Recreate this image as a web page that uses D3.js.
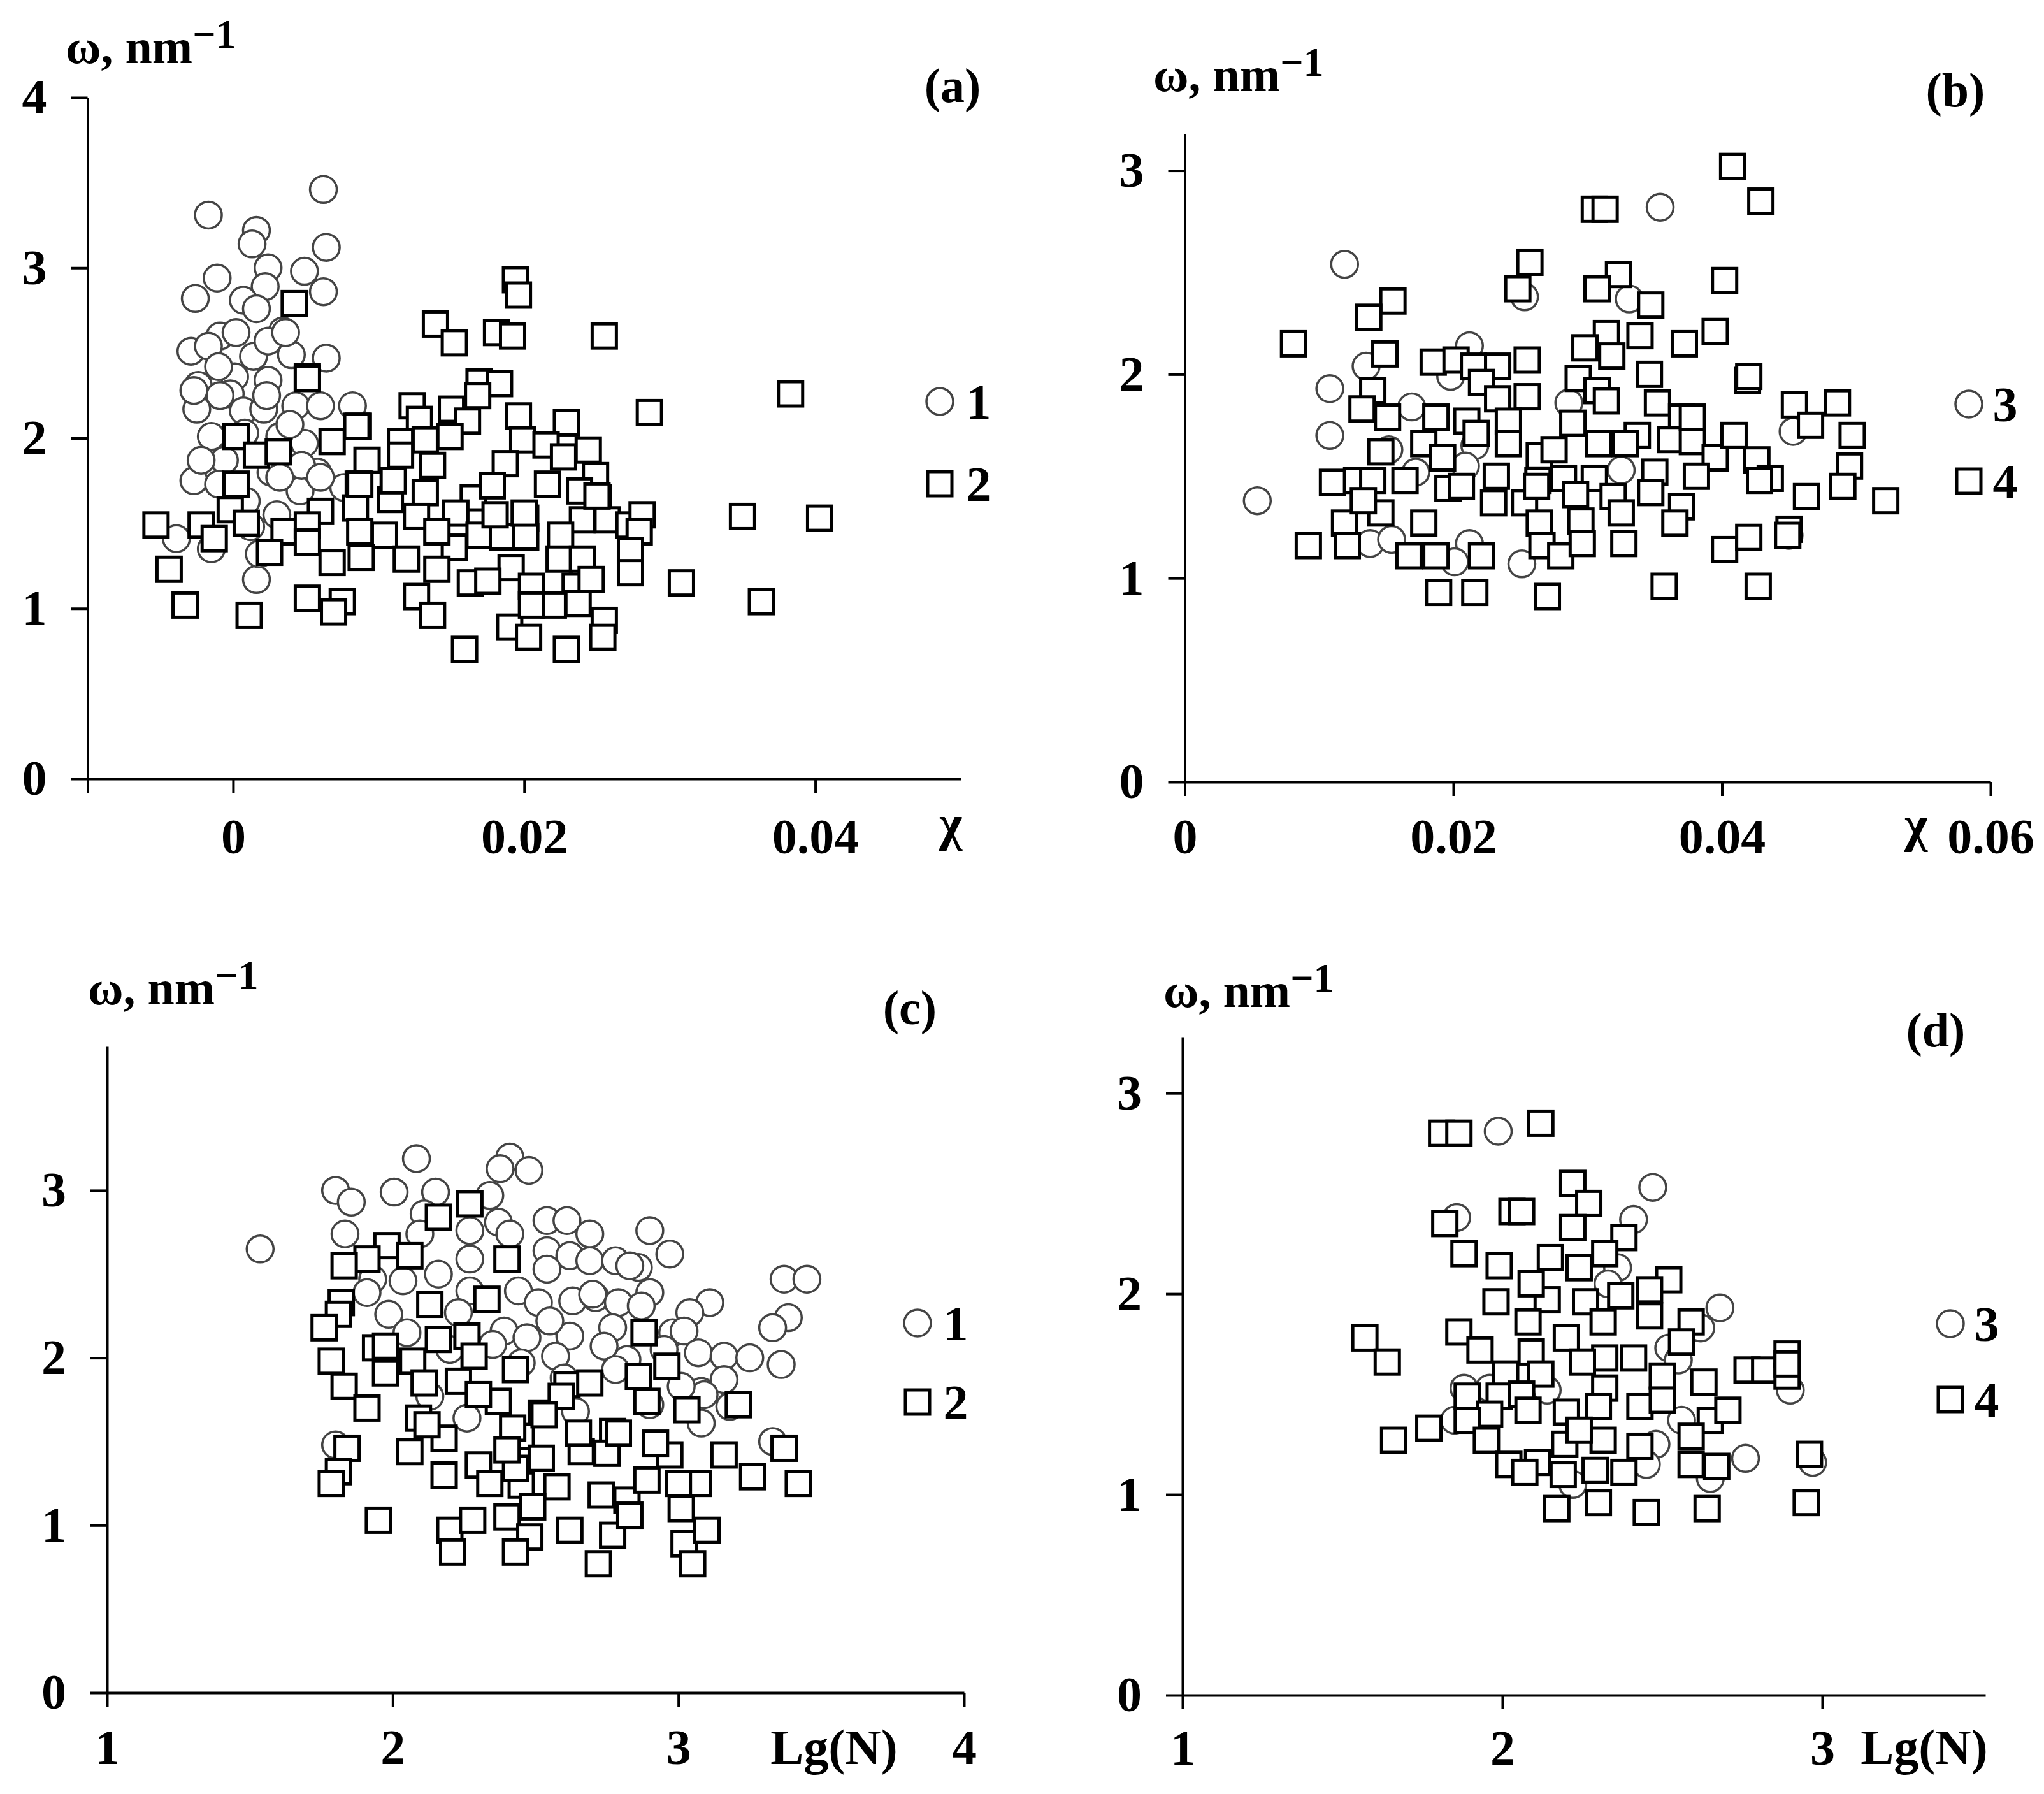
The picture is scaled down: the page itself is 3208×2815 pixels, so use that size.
<!DOCTYPE html>
<html lang="en">
<head>
<meta charset="utf-8">
<title>omega vs chi / Lg(N)</title>
<script src="https://d3js.org/d3.v7.min.js"></script>
<style>
  body { margin: 0; padding: 0; background: #fff; }
  svg { display: block; }
  text { font-family: "Liberation Serif", "Times New Roman", serif; font-weight: bold; fill: #000; }
</style>
</head>
<body>
<div id="root"></div>
<script>
// ---- data ----
// panel (a): omega vs chi, sets 1 (circles) and 2 (squares)
var a_set1 = [[0.0062,3.46],[-0.0017,3.31],[0.0016,3.22],[0.0013,3.14],[0.0064,3.12],[0.0024,3.00],[0.0049,2.98],[-0.0011,2.94],[0.0062,2.86],[-0.0026,2.82],[0.0022,2.89],[0.0007,2.81],[0.0016,2.76],[0.0034,2.63],[-0.0009,2.60],[-0.0029,2.51],[-0.0017,2.54],[0.0002,2.62],[0.0014,2.48],[0.0040,2.49],[0.0064,2.47],[0.0024,2.57],[-0.0024,2.31],[0.0001,2.36],[-0.0002,2.26],[0.0024,2.34],[-0.0010,2.42],[-0.0025,2.17],[0.0007,2.16],[0.0021,2.17],[0.0043,2.19],[0.0060,2.19],[0.0082,2.19],[-0.0015,2.01],[0.0032,2.01],[0.0049,1.97],[-0.0006,1.87],[-0.0027,1.75],[-0.0010,1.73],[0.0046,1.69],[0.0026,1.80],[-0.0039,1.41],[-0.0015,1.35],[0.0016,1.17],[0.0076,1.71],[0.0036,2.62],[-0.0027,2.28],[0.0058,1.80],[0.0018,1.32],[0.0009,1.63],[-0.0009,2.25],[0.0023,2.25],[0.0039,2.08],[0.0008,2.03],[-0.0022,1.87],[0.0047,1.84],[0.0032,1.77],[0.0060,1.77],[0.0012,1.48],[0.0030,1.55]];
var a_set2 = [[0.0194,2.93],[0.0196,2.84],[0.0042,2.79],[0.0139,2.67],[0.0152,2.56],[0.0181,2.62],[0.0192,2.60],[0.0255,2.60],[0.0051,2.36],[0.0169,2.33],[0.0183,2.32],[0.0168,2.25],[0.0123,2.19],[0.0150,2.17],[0.0196,2.13],[0.0229,2.09],[0.0086,2.07],[0.0128,2.11],[0.0161,2.10],[0.0002,2.01],[0.0068,1.98],[0.0115,1.98],[0.0132,1.99],[0.0149,2.01],[0.0199,1.99],[0.0215,1.96],[0.0016,1.90],[0.0031,1.92],[0.0092,1.87],[0.0137,1.84],[0.0115,1.90],[0.0187,1.85],[0.0227,1.89],[0.0244,1.93],[0.0249,1.78],[0.0002,1.73],[0.0086,1.73],[0.0108,1.64],[0.0132,1.68],[0.0165,1.65],[0.0216,1.73],[0.0238,1.69],[0.0251,1.65],[-0.0002,1.58],[0.0084,1.59],[0.0060,1.57],[0.0126,1.54],[0.0153,1.56],[0.0201,1.53],[0.0240,1.52],[0.0257,1.52],[-0.0053,1.49],[-0.0022,1.49],[0.0009,1.50],[-0.0013,1.41],[0.0035,1.45],[0.0051,1.49],[0.0051,1.39],[0.0087,1.45],[0.0104,1.43],[0.0169,1.43],[0.0185,1.42],[0.0201,1.42],[0.0225,1.43],[0.0272,1.49],[0.0025,1.33],[0.0088,1.30],[0.0068,1.27],[0.0119,1.29],[0.0152,1.36],[0.0191,1.24],[0.0224,1.29],[0.0240,1.29],[0.0273,1.26],[0.0140,1.23],[0.0163,1.15],[0.0175,1.16],[0.0205,1.13],[0.0235,1.13],[0.0246,1.17],[-0.0044,1.23],[0.0126,1.07],[0.0137,0.96],[-0.0033,1.02],[0.0011,0.96],[0.0051,1.06],[0.0075,1.04],[0.0069,0.98],[0.0190,0.89],[0.0203,0.83],[0.0159,0.76],[0.0229,0.76],[0.0255,0.93],[0.0254,0.83],[0.0220,1.02],[0.0205,1.02],[0.0237,1.03],[0.0383,2.26],[0.0286,2.15],[0.0350,1.54],[0.0403,1.53],[0.0308,1.15],[0.0363,1.04],[0.0281,1.55],[0.0279,1.45],[0.0273,1.34],[0.0273,1.21],[0.0250,1.66],[0.0200,1.56],[0.0051,2.35],[0.0085,2.07],[0.0087,1.73],[0.0178,1.72],[0.0140,1.45],[0.0180,1.55],[0.0110,1.75]];

// panel (b): omega vs chi, sets 3 and 4
var b_set3 = [[0.0119,2.54],[0.0354,2.82],[0.0253,2.38],[0.0331,2.37],[0.0212,2.14],[0.0135,2.04],[0.0108,1.93],[0.0198,1.99],[0.0169,1.84],[0.0286,1.86],[0.0108,1.70],[0.0216,1.65],[0.0054,1.38],[0.0172,1.52],[0.0209,1.55],[0.0325,1.53],[0.0138,1.17],[0.0154,1.19],[0.0212,1.17],[0.0201,1.08],[0.0251,1.07],[0.0453,1.72],[0.0450,1.21],[0.0152,1.63]];
var b_set4 = [[0.0408,3.02],[0.0429,2.85],[0.0305,2.81],[0.0313,2.81],[0.0257,2.55],[0.0248,2.42],[0.0323,2.49],[0.0307,2.42],[0.0347,2.34],[0.0402,2.46],[0.0155,2.36],[0.0137,2.28],[0.0081,2.15],[0.0314,2.20],[0.0339,2.19],[0.0372,2.15],[0.0395,2.21],[0.0298,2.13],[0.0149,2.10],[0.0185,2.06],[0.0202,2.07],[0.0215,2.04],[0.0233,2.04],[0.0255,2.07],[0.0318,2.09],[0.0221,1.96],[0.0293,1.98],[0.0307,1.92],[0.0346,2.00],[0.0140,1.92],[0.0233,1.88],[0.0255,1.89],[0.0314,1.87],[0.0352,1.86],[0.0132,1.83],[0.0151,1.79],[0.0187,1.79],[0.0370,1.79],[0.0289,1.76],[0.0337,1.70],[0.0210,1.77],[0.0241,1.77],[0.0217,1.71],[0.0178,1.66],[0.0241,1.66],[0.0264,1.60],[0.0275,1.63],[0.0308,1.66],[0.0328,1.66],[0.0362,1.68],[0.0378,1.67],[0.0395,1.59],[0.0146,1.62],[0.0192,1.59],[0.0232,1.50],[0.0263,1.48],[0.0282,1.49],[0.0305,1.49],[0.0350,1.52],[0.0381,1.50],[0.0110,1.47],[0.0128,1.48],[0.0140,1.48],[0.0164,1.48],[0.0196,1.44],[0.0206,1.45],[0.0230,1.37],[0.0253,1.37],[0.0262,1.45],[0.0291,1.41],[0.0319,1.40],[0.0347,1.42],[0.0370,1.35],[0.0146,1.32],[0.0178,1.27],[0.0119,1.27],[0.0133,1.38],[0.0264,1.27],[0.0295,1.28],[0.0325,1.32],[0.0365,1.27],[0.0092,1.16],[0.0121,1.16],[0.0167,1.11],[0.0187,1.11],[0.0221,1.11],[0.0266,1.16],[0.0280,1.11],[0.0296,1.17],[0.0327,1.17],[0.0189,0.93],[0.0216,0.93],[0.0270,0.91],[0.0357,0.96],[0.0402,1.14],[0.0419,1.97],[0.0420,1.99],[0.0454,1.85],[0.0486,1.86],[0.0466,1.75],[0.0497,1.70],[0.0495,1.55],[0.0490,1.45],[0.0522,1.38],[0.0463,1.40],[0.0426,1.58],[0.0436,1.49],[0.0428,1.48],[0.0409,1.70],[0.0450,1.24],[0.0449,1.21],[0.0420,1.20],[0.0427,0.96],[0.0378,1.79]];

// panel (c): omega vs Lg(N), sets 1 and 2
var c_set1 = [[1.536,2.65],[2.083,3.19],[2.41,3.20],[2.376,3.13],[2.477,3.12],[1.80,3.00],[1.855,2.93],[2.005,2.99],[2.15,2.99],[2.34,2.97],[2.11,2.86],[1.833,2.74],[2.095,2.74],[2.27,2.76],[2.37,2.81],[2.41,2.74],[2.54,2.82],[2.61,2.82],[2.69,2.74],[2.90,2.76],[2.97,2.62],[2.54,2.64],[2.62,2.61],[2.69,2.58],[2.54,2.53],[2.78,2.58],[2.86,2.54],[2.27,2.59],[2.16,2.50],[2.036,2.46],[1.93,2.47],[1.91,2.39],[2.27,2.40],[2.44,2.40],[2.51,2.33],[2.63,2.34],[2.71,2.36],[2.79,2.33],[2.90,2.39],[1.986,2.26],[2.23,2.27],[2.39,2.16],[2.47,2.12],[2.62,2.13],[2.77,2.18],[2.98,2.15],[3.11,2.33],[3.04,2.27],[3.02,2.16],[3.07,2.03],[2.57,2.01],[2.82,1.99],[3.08,1.80],[3.08,1.61],[2.64,1.68],[2.26,1.64],[2.13,1.77],[1.80,1.48],[3.37,2.47],[3.45,2.47],[3.385,2.24],[3.33,2.18],[3.36,1.96],[3.33,1.50],[3.16,2.01],[3.25,2.00],[3.16,1.87],[3.09,1.78],[3.18,1.71],[2.83,2.55],[2.70,2.38],[2.74,2.07],[2.87,2.31],[3.01,1.83],[2.78,1.93],[2.35,2.08],[2.45,1.97],[2.20,2.05],[2.60,1.88],[2.95,2.05],[2.05,2.15],[2.55,2.22],[2.90,1.72]];
var c_set2 = [[2.27,2.92],[2.16,2.84],[1.98,2.67],[2.06,2.61],[1.91,2.59],[1.83,2.55],[2.40,2.59],[1.82,2.33],[1.81,2.26],[1.76,2.18],[2.13,2.32],[2.33,2.35],[1.785,1.98],[1.94,2.06],[1.975,2.07],[2.16,2.11],[2.26,2.13],[2.285,2.01],[2.07,1.98],[2.88,2.15],[1.83,1.83],[1.975,1.91],[2.11,1.85],[2.23,1.86],[2.43,1.93],[2.61,1.84],[2.69,1.85],[2.96,1.95],[3.03,1.69],[2.86,1.89],[1.91,1.70],[2.09,1.64],[2.37,1.74],[2.52,1.67],[2.59,1.77],[2.77,1.56],[2.89,1.74],[2.06,1.44],[1.84,1.46],[2.18,1.52],[2.30,1.36],[2.45,1.53],[2.52,1.40],[2.66,1.44],[2.75,1.43],[2.97,1.42],[3.16,1.42],[1.81,1.32],[1.785,1.25],[2.18,1.30],[2.34,1.25],[2.45,1.24],[2.575,1.23],[2.73,1.18],[3.07,1.25],[3.00,1.25],[1.95,1.03],[2.20,0.97],[2.28,1.03],[2.40,1.05],[2.48,0.93],[2.62,0.97],[2.77,0.94],[3.02,0.89],[3.10,0.97],[2.21,0.84],[2.43,0.84],[2.72,0.77],[3.05,0.77],[3.21,1.72],[3.37,1.46],[3.26,1.29],[3.42,1.25],[2.49,1.11],[2.82,1.15],[3.01,1.10],[2.83,1.06],[2.79,1.55],[2.92,1.49],[2.89,1.27],[2.43,1.34],[2.42,1.58],[2.53,1.66],[2.30,1.78],[2.65,1.55],[2.12,1.60],[2.40,1.45]];

// panel (d): omega vs Lg(N), sets 3 and 4
var d_set3 = [[1.987,2.81],[2.47,2.53],[1.857,2.38],[2.41,2.37],[2.36,2.13],[2.33,2.05],[2.68,1.93],[2.62,1.83],[2.52,1.73],[2.55,1.67],[1.88,1.53],[1.96,1.53],[2.14,1.52],[1.85,1.37],[2.48,1.25],[2.56,1.37],[2.45,1.15],[2.76,1.18],[2.65,1.08],[2.22,1.05],[2.90,1.52],[2.97,1.16]];
var d_set4 = [[1.81,2.80],[1.864,2.80],[2.12,2.85],[2.22,2.55],[2.27,2.45],[2.22,2.33],[2.03,2.41],[2.06,2.41],[1.82,2.35],[1.88,2.20],[2.38,2.28],[2.32,2.20],[1.99,2.14],[2.15,2.18],[2.24,2.13],[2.52,2.07],[2.46,2.02],[1.98,1.96],[2.14,1.97],[2.26,1.96],[2.37,1.99],[2.09,2.05],[2.46,1.89],[2.315,1.86],[2.59,1.86],[1.864,1.81],[2.08,1.86],[2.20,1.78],[1.93,1.72],[2.09,1.71],[2.41,1.68],[2.32,1.68],[2.25,1.66],[2.56,1.76],[1.57,1.78],[1.64,1.66],[2.765,1.62],[2.82,1.62],[2.89,1.70],[2.89,1.59],[2.89,1.65],[2.01,1.60],[2.12,1.60],[2.50,1.59],[2.63,1.56],[2.32,1.53],[1.89,1.49],[1.99,1.49],[2.06,1.50],[2.43,1.44],[2.50,1.47],[2.08,1.42],[2.20,1.41],[2.30,1.44],[1.96,1.40],[1.89,1.37],[2.65,1.37],[2.705,1.42],[1.77,1.33],[1.66,1.27],[1.95,1.27],[2.315,1.27],[2.195,1.25],[2.43,1.24],[2.59,1.29],[2.02,1.15],[2.11,1.16],[2.19,1.10],[2.29,1.12],[2.38,1.11],[2.59,1.15],[2.67,1.14],[2.96,1.20],[2.95,0.96],[2.17,0.93],[2.30,0.96],[2.45,0.91],[2.64,0.93],[2.07,1.11],[2.24,1.32]];

// ticks and labels
var a_xTicks = [-0.01, 0, 0.02, 0.04];
var a_xTickLabels = ["", "0", "0.02", "0.04"];
var a_yTicks = [0, 1, 2, 3, 4];
var b_xTicks = [0, 0.02, 0.04, 0.06];
var b_xTickLabels = ["0", "0.02", "0.04", "0.06"];
var b_yTicks = [0, 1, 2, 3];
var c_xTicks = [1, 2, 3, 4];
var c_yTicks = [0, 1, 2, 3];
var d_xTicks = [1, 2, 3];
var d_yTicks = [0, 1, 2, 3];
var legendAB = [["1", "2"], ["3", "4"]];
var panelLetters = ["(a)", "(b)", "(c)", "(d)"];

// ---- layout ----
var W = 3208, H = 2815;
var R = 21, SQ = 38;       // marker sizes
var FS = 78;               // tick label font size

var svg = d3.select("#root")
  .append("svg")
    .attr("width", W)
    .attr("height", H);

svg.append("rect").attr("width", W).attr("height", H).attr("fill", "#fff");

var panels = [
  { xDom: [-0.01, 0.05], xRng: [137.5, 1508], yDom: [0, 4], yRng: [1222, 153],
    xTicks: a_xTicks, xLab: a_xTickLabels, yTicks: a_yTicks,
    s1: a_set1, s2: a_set2, leg: legendAB[0], letter: panelLetters[0],
    xPad: 40, title: [103, 99], letterPos: [1495, 160],
    xName: "χ", xNamePos: [1492, 1318],
    legPos: [1475, 630, 1536, 759] },
  { xDom: [0, 0.06], xRng: [1859.5, 3124], yDom: [0, 3.18], yRng: [1227, 210],
    xTicks: b_xTicks, xLab: b_xTickLabels, yTicks: b_yTicks,
    s1: b_set3, s2: b_set4, leg: legendAB[1], letter: panelLetters[1],
    xPad: 35, title: [1810, 143], letterPos: [3069, 167],
    xName: "χ", xNamePos: [3007, 1320],
    legPos: [3090, 634, 3147, 755] },
  { xDom: [1, 4], xRng: [168, 1513], yDom: [0, 3.86], yRng: [2656, 1642],
    xTicks: c_xTicks, xLab: null, yTicks: c_yTicks,
    s1: c_set1, s2: c_set2, leg: legendAB[0], letter: panelLetters[2],
    xPad: 35, title: [138, 1576], letterPos: [1428, 1607],
    xName: "Lg(N)", xNamePos: [1309, 2768],
    legPos: [1440, 2076, 1500, 2200] },
  { xDom: [1, 3.51], xRng: [1856, 3116], yDom: [0, 3.28], yRng: [2660, 1627],
    xTicks: d_xTicks, xLab: null, yTicks: d_yTicks,
    s1: d_set3, s2: d_set4, leg: legendAB[1], letter: panelLetters[3],
    xPad: 32, title: [1826, 1580], letterPos: [3038, 1642],
    xName: "Lg(N)", xNamePos: [3020, 2768],
    legPos: [3061, 2077, 3118, 2196] }
];

function styleAxis(g) {
  g.attr("font-size", FS)
   .attr("font-family", "'Liberation Serif', 'Times New Roman', serif")
   .attr("font-weight", "bold");
  g.selectAll("path, line").attr("stroke", "#000").attr("stroke-width", 4);
  g.selectAll("text").attr("fill", "#000");
}

function circle(g, cx, cy) {
  g.append("circle")
    .attr("cx", cx).attr("cy", cy).attr("r", R)
    .attr("fill", "#fff").attr("stroke", "#444").attr("stroke-width", 3.5);
}

function square(g, cx, cy) {
  g.append("rect")
    .attr("x", cx - SQ / 2).attr("y", cy - SQ / 2)
    .attr("width", SQ).attr("height", SQ)
    .attr("fill", "#fff").attr("stroke", "#000").attr("stroke-width", 5);
}

panels.forEach(function(p) {
  var x = d3.scaleLinear().domain(p.xDom).range(p.xRng);
  var y = d3.scaleLinear().domain(p.yDom).range(p.yRng);

  // axes
  var xAxis = d3.axisBottom(x)
    .tickValues(p.xTicks)
    .tickSize(22).tickSizeOuter(0).tickPadding(p.xPad)
    .tickFormat(function(d, i) { return p.xLab ? p.xLab[i] : d3.format("d")(d); });
  svg.append("g")
    .attr("transform", "translate(0," + p.yRng[0] + ")")
    .call(xAxis)
    .call(styleAxis);

  var yAxis = d3.axisLeft(y)
    .tickValues(p.yTicks)
    .tickSize(26).tickSizeOuter(0).tickPadding(38)
    .tickFormat(d3.format("d"));
  svg.append("g")
    .attr("transform", "translate(" + p.xRng[0] + ",0)")
    .call(yAxis)
    .call(styleAxis);

  // points: circles first, squares on top
  var g = svg.append("g");
  p.s1.forEach(function(d) { circle(g, x(d[0]), y(d[1])); });
  p.s2.forEach(function(d) { square(g, x(d[0]), y(d[1])); });

  // y title  omega, nm^-1
  var t = svg.append("text")
    .attr("x", p.title[0]).attr("y", p.title[1])
    .attr("font-size", 76);
  t.append("tspan").text("ω, nm");
  t.append("tspan").attr("dy", -24).attr("font-size", 64).text("−1");

  // x title
  svg.append("text")
    .attr("x", p.xNamePos[0]).attr("y", p.xNamePos[1])
    .attr("text-anchor", "middle")
    .attr("font-size", FS)
    .text(p.xName);

  // panel letter
  svg.append("text")
    .attr("x", p.letterPos[0]).attr("y", p.letterPos[1])
    .attr("text-anchor", "middle")
    .attr("font-size", 76)
    .text(p.letter);

  // legend
  var lg = svg.append("g");
  circle(lg, p.legPos[0], p.legPos[1]);
  square(lg, p.legPos[0], p.legPos[3]);
  lg.append("text").attr("x", p.legPos[2]).attr("y", p.legPos[1])
    .attr("dy", "0.35em").attr("text-anchor", "middle").attr("font-size", FS).text(p.leg[0]);
  lg.append("text").attr("x", p.legPos[2]).attr("y", p.legPos[3])
    .attr("dy", "0.35em").attr("text-anchor", "middle").attr("font-size", FS).text(p.leg[1]);
});
</script>
</body>
</html>
